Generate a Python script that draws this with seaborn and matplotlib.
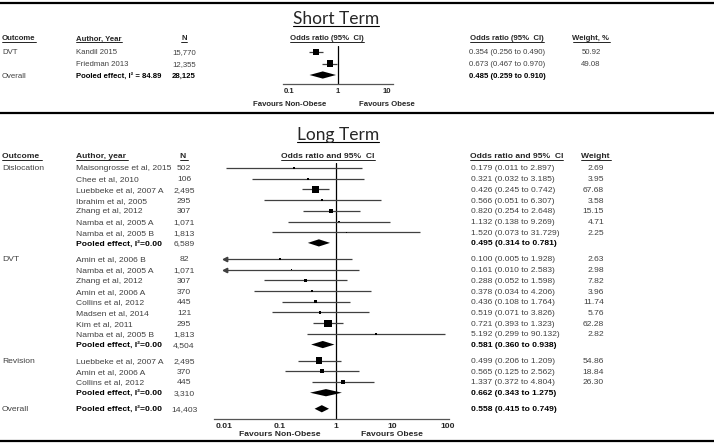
import numpy as np
import pandas as pd
import seaborn as sns
import matplotlib
matplotlib.use('Agg')
import matplotlib.pyplot as plt
from matplotlib import transforms
from matplotlib.lines import Line2D
from matplotlib.ticker import NullLocator

# ---- short term (DVT) ----
short_studies = ['Kandil 2015', 'Friedman 2013']
short_n = ['15,770', '12,355']
short_or = [0.354, 0.673]
short_lo = [0.256, 0.467]
short_hi = [0.490, 0.970]
short_weight = [50.92, 49.08]
short_pooled = [0.485, 0.259, 0.910]
short_pooled_n = '28,125'
short_i2 = 84.89

# ---- long term ----
disl_studies = ['Maisongrosse et al, 2015', 'Chee et al, 2010', 'Luebbeke et al, 2007 A',
                'Ibrahim et al, 2005', 'Zhang et al, 2012', 'Namba et al, 2005 A', 'Namba et al, 2005 B']
disl_n = ['502', '106', '2,495', '295', '307', '1,071', '1,813']
disl_or = [0.179, 0.321, 0.426, 0.566, 0.820, 1.132, 1.520]
disl_lo = [0.011, 0.032, 0.245, 0.051, 0.254, 0.138, 0.073]
disl_hi = [2.897, 3.185, 0.742, 6.307, 2.648, 9.269, 31.729]
disl_weight = [2.69, 3.95, 67.68, 3.58, 15.15, 4.71, 2.25]
disl_pooled = [0.495, 0.314, 0.781]
disl_pooled_n = '6,589'

dvt_studies = ['Amin et al, 2006 B', 'Namba et al, 2005 A', 'Zhang et al, 2012', 'Amin et al, 2006 A',
               'Collins et al, 2012', 'Madsen et al, 2014', 'Kim et al, 2011', 'Namba et al, 2005 B']
dvt_n = ['82', '1,071', '307', '370', '445', '121', '295', '1,813']
dvt_or = [0.100, 0.161, 0.288, 0.378, 0.436, 0.519, 0.721, 5.192]
dvt_lo = [0.005, 0.010, 0.052, 0.034, 0.108, 0.071, 0.393, 0.299]
dvt_hi = [1.928, 2.583, 1.598, 4.206, 1.764, 3.826, 1.323, 90.132]
dvt_weight = [2.63, 2.98, 7.82, 3.96, 11.74, 5.76, 62.28, 2.82]
dvt_pooled = [0.581, 0.360, 0.938]
dvt_pooled_n = '4,504'

rev_studies = ['Luebbeke et al, 2007 A', 'Amin et al, 2006 A', 'Collins et al, 2012']
rev_n = ['2,495', '370', '445']
rev_or = [0.499, 0.565, 1.337]
rev_lo = [0.206, 0.125, 0.372]
rev_hi = [1.209, 2.562, 4.804]
rev_weight = [54.86, 18.84, 26.30]
rev_pooled = [0.662, 0.343, 1.275]
rev_pooled_n = '3,310'

overall_pooled = [0.558, 0.415, 0.749]
overall_n = '14,403'

# ---- build tables ----
short_df = pd.DataFrame({'outcome': ['DVT', ''], 'study': short_studies, 'n': short_n,
                         'est': short_or, 'lo': short_lo, 'hi': short_hi, 'w': short_weight,
                         'pooled': False})
short_df = pd.concat([short_df, pd.DataFrame([{
    'outcome': 'Overall', 'study': 'Pooled effect, I\u00b2 = %.2f' % short_i2, 'n': short_pooled_n,
    'est': short_pooled[0], 'lo': short_pooled[1], 'hi': short_pooled[2], 'w': np.nan,
    'pooled': True}])], ignore_index=True)
short_df['pos'] = np.arange(len(short_df), dtype=float)

groups = [('Dislocation', disl_studies, disl_n, disl_or, disl_lo, disl_hi, disl_weight, disl_pooled, disl_pooled_n),
          ('DVT', dvt_studies, dvt_n, dvt_or, dvt_lo, dvt_hi, dvt_weight, dvt_pooled, dvt_pooled_n),
          ('Revision', rev_studies, rev_n, rev_or, rev_lo, rev_hi, rev_weight, rev_pooled, rev_pooled_n)]
rows = []
pos = 0.0
for name, st, ns, ors, los, his, ws, pooled, pn in groups:
    for i in range(len(st)):
        rows.append(dict(outcome=name if i == 0 else '', study=st[i], n=ns[i], est=ors[i],
                         lo=los[i], hi=his[i], w=ws[i], pooled=False, pos=pos))
        pos += 1
    rows.append(dict(outcome='', study='Pooled effect, I\u00b2=0.00', n=pn, est=pooled[0],
                     lo=pooled[1], hi=pooled[2], w=np.nan, pooled=True, pos=pos))
    pos += 1.5
rows.append(dict(outcome='Overall', study='Pooled effect, I\u00b2=0.00', n=overall_n, est=overall_pooled[0],
                 lo=overall_pooled[1], hi=overall_pooled[2], w=np.nan, pooled=True, pos=pos))
long_df = pd.DataFrame(rows)

# ---- figure ----
sns.set_style('white')
plt.rcParams['font.family'] = ['Liberation Sans', 'DejaVu Sans']
W, H = 714, 445
fig = plt.figure(figsize=(W / 100, H / 100), dpi=100)
FS = 6.1
FS_S = 5.6
GRAY = '#404040'


def px_axes(x0, x1, y0, y1):
    return fig.add_axes([x0 / W, 1 - y1 / H, (x1 - x0) / W, (y1 - y0) / H])


def ftext(x, y, s, **kw):
    return fig.text(x / W, 1 - y / H, s, **kw)


def forest(ax, df, unit_px, xlim, ylim, ticks, ticklabels, fs, clip_lo=None):
    ax.set_xscale('log')
    st = df[~df.pooled]
    pl = df[df.pooled]
    lo = st.lo.clip(lower=clip_lo) if clip_lo else st.lo
    ax.hlines(st.pos, lo, st.hi, color=GRAY, lw=0.9, zorder=2)
    if clip_lo:
        cut = st[st.lo < clip_lo]
        ax.plot(np.full(len(cut), clip_lo), cut.pos, ls='none', marker='<', ms=3.2,
                color=GRAY, zorder=2)
    sns.scatterplot(data=st, x='est', y='pos', size='w', sizes=(0, 42), size_norm=(0, 100),
                    marker='s', color='black', linewidth=0, legend=False, ax=ax, zorder=3)
    h = 3.6 / unit_px
    for _, r in pl.iterrows():
        ax.fill([r.lo, r.est, r.hi, r.est], [r.pos, r.pos - h, r.pos, r.pos + h],
                color='black', lw=0, zorder=3)
    ax.axvline(1, color='black', lw=0.9, zorder=1)
    ax.set_xlim(xlim)
    ax.set_ylim(ylim)
    ax.set_xlabel('')
    ax.set_ylabel('')
    ax.set_yticks([])
    ax.xaxis.set_minor_locator(NullLocator())
    ax.set_xticks(ticks, labels=ticklabels, fontweight='bold', fontsize=fs)
    ax.tick_params(axis='x', length=0, pad=3)
    for s in ['top', 'left', 'right']:
        ax.spines[s].set_visible(False)
    ax.spines['bottom'].set_color('#555555')
    ax.spines['bottom'].set_linewidth(0.9)
    ax.patch.set_alpha(0)


def px_to_val(px, one_px, decade):
    return 10 ** ((px - one_px) / decade)


underlined = []

# ---- short term panel ----
s_top, s_unit = 52, 11.5
s_ax_top, s_ax_bot = 46, 84
ax_s = px_axes(283, 393, s_ax_top, s_ax_bot)
forest(ax_s, short_df, s_unit,
       (px_to_val(283, 338, 48.5), px_to_val(393, 338, 48.5)),
       ((s_ax_bot - s_top) / s_unit, (s_ax_top - s_top) / s_unit),
       [0.1, 1, 10], ['0.1', '1', '10'], FS_S)

t = ftext(336, 19, 'Short Term', family='Lato', fontsize=12.5, ha='center', va='center')
underlined.append((t, 1.5, 0.8))
for x, s, ha in [(2, 'Outcome', 'left'), (76, 'Author, Year', 'left'), (184, 'N', 'center'),
                 (327, 'Odds ratio (95%  CI)', 'center'), (470, 'Odds ratio (95%  CI)', 'left'),
                 (591, 'Weight, %', 'center')]:
    t = ftext(x, 38, s, fontsize=FS_S, fontweight='bold', ha=ha, va='center_baseline')
    underlined.append((t, 0.6, 0.6))

tr_s = transforms.blended_transform_factory(fig.transFigure, ax_s.transData)
for _, r in short_df.iterrows():
    col = 'black' if r.pooled else GRAY
    fw = 'bold' if r.pooled else 'normal'
    kw = dict(transform=tr_s, fontsize=FS_S, va='center_baseline', color=col, clip_on=False)
    fig.text(2 / W, r.pos, r.outcome, **dict(kw, color=GRAY))
    fig.text(76 / W, r.pos, r.study, fontweight=fw, **kw)
    fig.text(184 / W, r.pos, r.n, fontweight=fw, ha='center', **kw)
    fig.text(469 / W, r.pos, '%.3f (%.3f to %.3f)' % (r.est, r.lo, r.hi), fontweight=fw, **kw)
    if not r.pooled:
        fig.text(591 / W, r.pos, '%.2f' % r.w, ha='center', **kw)

for xv, s in [(0.1, 'Favours Non-Obese'), (10, 'Favours Obese')]:
    ax_s.annotate(s, xy=(xv, 0), xycoords=('data', 'axes fraction'), xytext=(0, -15),
                  textcoords='offset points', ha='center', va='center', fontsize=FS_S,
                  fontweight='bold', annotation_clip=False)

# ---- long term panel ----
l_top, l_unit = 168, 10.7
l_ax_top, l_ax_bot = 163, 419
ax_l = px_axes(214, 449, l_ax_top, l_ax_bot)
forest(ax_l, long_df, l_unit,
       (px_to_val(214, 336, 56), px_to_val(449, 336, 56)),
       ((l_ax_bot - l_top) / l_unit, (l_ax_top - l_top) / l_unit),
       [0.01, 0.1, 1, 10, 100], ['0.01', '0.1', '1', '10', '100'], FS, clip_lo=0.0105)

t = ftext(338, 135, 'Long Term', family='Lato', fontsize=12.5, ha='center', va='center')
underlined.append((t, 1.5, 0.8))
for x, s, ha in [(2, 'Outcome ', 'left'), (76, 'Author, year ', 'left'), (184, 'N ', 'center'),
                 (328, 'Odds ratio and 95%  CI', 'center'), (470, 'Odds ratio and 95%  CI', 'left'),
                 (596, 'Weight ', 'center')]:
    t = ftext(x, 156, s, fontsize=FS, fontweight='bold', ha=ha, va='center_baseline')
    underlined.append((t, 0.6, 0.6))

tr_l = transforms.blended_transform_factory(fig.transFigure, ax_l.transData)
for _, r in long_df.iterrows():
    col = 'black' if r.pooled else GRAY
    fw = 'bold' if r.pooled else 'normal'
    kw = dict(transform=tr_l, fontsize=FS, va='center_baseline', clip_on=False)
    fig.text(2 / W, r.pos, r.outcome, color=GRAY, **kw)
    fig.text(76 / W, r.pos, r.study, fontweight=fw, color=col, **kw)
    fig.text(184 / W, r.pos, r.n, ha='center', color=GRAY, **kw)
    fig.text(471 / W, r.pos, '%.3f (%.3f to %.3f)' % (r.est, r.lo, r.hi), fontweight=fw,
             color=col, **kw)
    if not r.pooled:
        fig.text(604 / W, r.pos, '%.2f' % r.w, ha='right', color=GRAY, **kw)

for xv, s in [(0.1, 'Favours Non-Obese'), (10, 'Favours Obese')]:
    ax_l.annotate(s, xy=(xv, 0), xycoords=('data', 'axes fraction'), xytext=(0, -11),
                  textcoords='offset points', ha='center', va='center', fontsize=FS,
                  fontweight='bold', annotation_clip=False)

# ---- frame lines ----
for y in [3, 113, 441]:
    fig.add_artist(Line2D([0, 1], [1 - y / H] * 2, transform=fig.transFigure,
                          color='black', lw=1.6))

# ---- underline headers ----
fig.canvas.draw()
for t, off, lw in underlined:
    bb = t.get_window_extent()
    fig.add_artist(Line2D([bb.x0, bb.x1], [bb.y0 + off] * 2,
                          transform=transforms.IdentityTransform(), color='black', lw=lw))

fig.savefig('out.png', dpi=100)
